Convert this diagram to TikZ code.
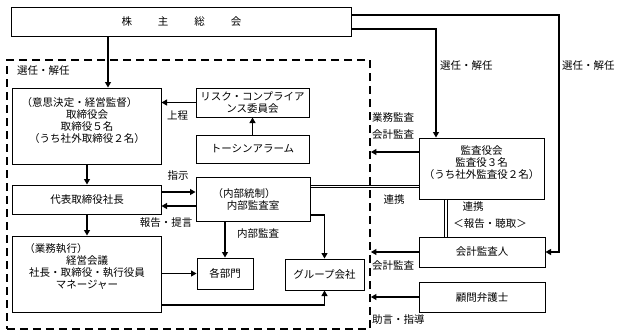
\documentclass[tikz,border=0pt]{standalone}
\usepackage{fontspec}
\setmainfont{Noto Sans CJK JP}
\usetikzlibrary{arrows.meta}
\begin{document}
\begin{tikzpicture}[x=1bp,y=-1bp,
  box/.style={draw, line width=1bp, inner sep=0pt, align=center, font=\fontsize{10.5bp}{12bp}\selectfont},
  lbl/.style={inner sep=0pt, font=\fontsize{10.5bp}{12bp}\selectfont},
  arr/.style={line width=1.1bp, -{Triangle[length=5.5bp,width=6bp]}},
  dbl/.style={double, double distance=1.8bp, line width=0.8bp},
  frame/.style={draw, line width=1.8bp, dash pattern=on 8bp off 5bp, inner sep=0pt}]
\fill[white] (0,0) rectangle (624,335);
\useasboundingbox (0,0) rectangle (624,335);

% dashed frame
\node[frame, minimum width=363bp, minimum height=269bp] (frame) at (188.5,194.5) {};

% boxes
\node[box, minimum width=339bp, minimum height=29bp] (soukai) at (181.5,21.5)
  {株\hspace{26bp}主\hspace{26bp}総\hspace{26bp}会};
\node[box, minimum width=148bp, minimum height=76bp] (torishimari) at (87,126)
  {（意思決定・経営監督）\hspace*{15bp}\\取締役会\\取締役５名\\（うち社外取締役２名）\\\mbox{}};
\node[box, minimum width=113bp, minimum height=29bp] (risk) at (252.5,102.5)
  {リスク・コンプライア\\ンス委員会};
\node[box, minimum width=113bp, minimum height=28bp] (toshin) at (252.5,149)
  {トーシンアラーム};
\node[box, minimum width=148bp, minimum height=29bp] (daihyo) at (87,199.5)
  {代表取締役社長};
\node[box, minimum width=114bp, minimum height=44bp] (naibu) at (253,199)
  {（内部統制）\hspace*{18bp}\\内部監査室};
\node[box, minimum width=148bp, minimum height=76bp] (gyomu) at (87,274)
  {（業務執行）\hspace*{62bp}\\経営会議\\社長・取締役・執行役員\\マネージャー\\[5bp]\mbox{}};
\node[box, minimum width=56bp, minimum height=31bp] (kakubumon) at (225,273.5)
  {各部門};
\node[box, minimum width=79bp, minimum height=31bp] (group) at (324.5,274.5)
  {グループ会社};
\node[box, minimum width=125bp, minimum height=61bp] (kansayaku) at (481.5,168.5)
  {監査役会\\監査役３名\\（うち社外監査役２名）\\\mbox{}};
\node[box, minimum width=126bp, minimum height=30bp] (kaikei) at (482,252)
  {会計監査人};
\node[box, minimum width=126bp, minimum height=30bp] (komon) at (482,297)
  {顧問弁護士};

% helper coordinates
\coordinate (r1) at (559,15);
\coordinate (r2) at (436,29);
\coordinate (x108) at (108,0);
\coordinate (y192) at (0,192);
\coordinate (y206) at (0,206);
\coordinate (y305) at (0,305);
\coordinate (y215) at (0,215);
\coordinate (y187) at (0,186.5);
\coordinate (y152) at (0,152);
\coordinate (x446) at (446,0);

% connectors
\draw[arr] (soukai.south -| x108) -- (torishimari.north -| x108);
\draw[arr] (soukai.east |- r1) -| (r1 |- kaikei.east) -- (kaikei.east);
\draw[arr] (soukai.east |- r2) -| (kansayaku.north -| r2);
\draw[arr] (risk.west) -- (risk.west -| torishimari.east);
\draw[arr] (toshin.north) -- (risk.south);
\draw[arr] (torishimari.south) -- (daihyo.north);
\draw[arr] (daihyo.east |- y192) -- (naibu.west |- y192);
\draw[arr] (naibu.west |- y206) -- (daihyo.east |- y206);
\draw[arr] (daihyo.south) -- (gyomu.north);
\draw[arr] (gyomu.east |- kakubumon.west) -- (kakubumon.west);
\draw[arr] (gyomu.east |- y305) -| (group.south);
\draw[arr] (naibu.south -| kakubumon.north) -- (kakubumon.north);
\draw[arr] (naibu.east |- y215) -| (group.north);
\draw[dbl] (naibu.east |- y187) -- (kansayaku.west |- y187);
\draw[dbl] (kansayaku.south -| x446) -- (kaikei.north -| x446);
\draw[arr] (kansayaku.west |- y152) -- (frame.east |- y152);
\draw[arr] (kaikei.west) -- (frame.east |- kaikei.west);
\draw[arr] (komon.west) -- (frame.east |- komon.west);

% labels
\node[lbl, anchor=west] (l1) at (17,71) {選任・解任};
\node[lbl, anchor=west] (l2) at (440,66) {選任・解任};
\node[lbl, anchor=west] (l3) at (562,66) {選任・解任};
\node[lbl] (l4) at (177.5,116) {上程};
\node[lbl, anchor=west] (l5) at (372,117) {業務監査};
\node[lbl, anchor=west] (l6) at (372,135) {会計監査};
\node[lbl] (l7) at (178,176) {指示};
\node[lbl] (l8) at (166,223) {報告・提言};
\node[lbl] (l9) at (258,234) {内部監査};
\node[lbl] (l10) at (394,200) {連携};
\node[lbl] (l11) at (473,207) {連携};
\node[lbl] (l12) at (490,224) {＜報告・聴取＞};
\node[lbl, anchor=west] (l13) at (372,266) {会計監査};
\node[lbl, anchor=west] (l14) at (372,320) {助言・指導};
\end{tikzpicture}
\end{document}
